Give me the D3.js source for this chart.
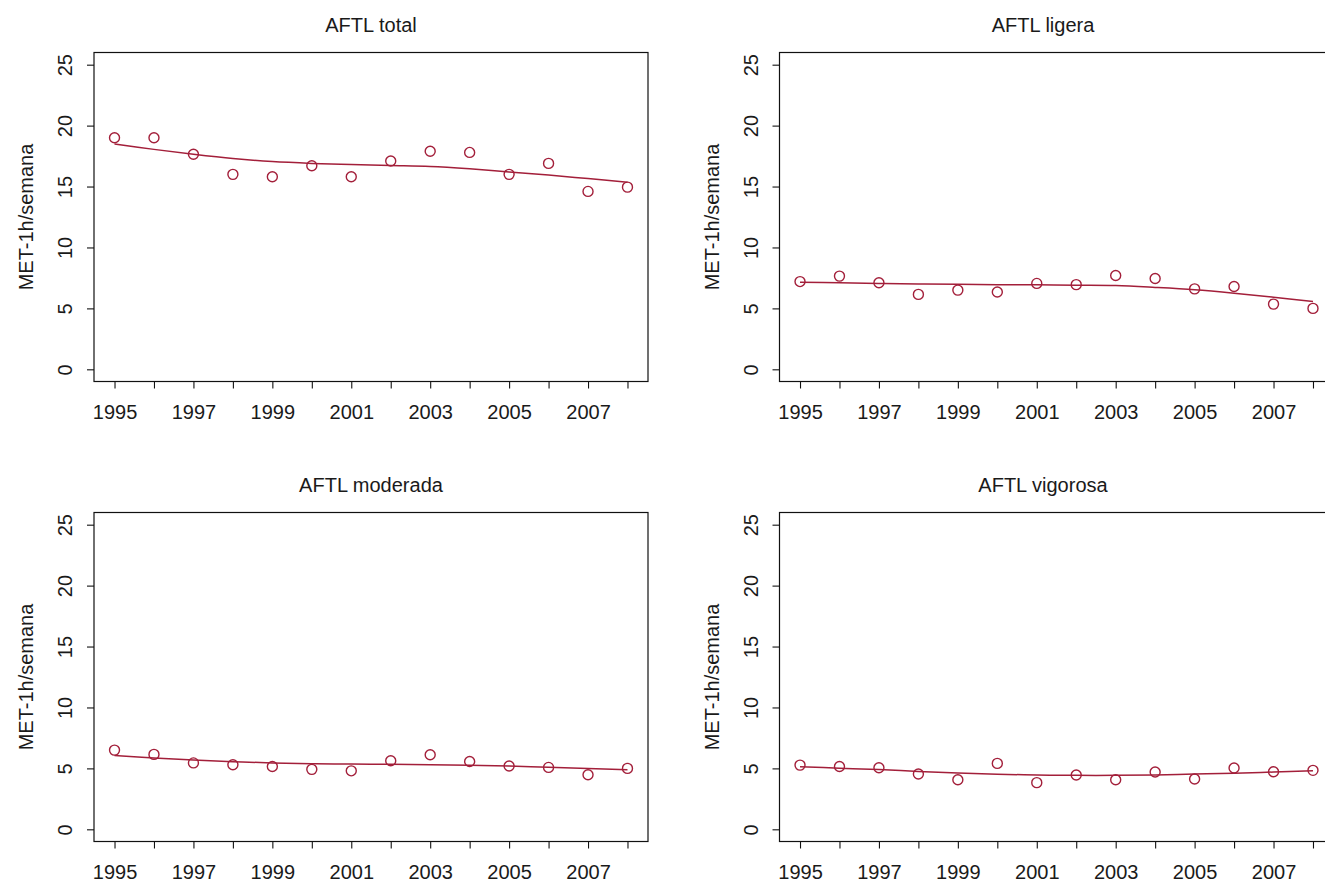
<!DOCTYPE html>
<html>
<head>
<meta charset="utf-8">
<script src="https://cdn.jsdelivr.net/npm/d3@7"></script>
<style>
  body { margin: 0; background: #fff; }
  svg text { font-family: "Liberation Sans", Arial, sans-serif; fill: #1a1a1a; }
</style>
</head>
<body>
<div id="chart"></div>
<script>
"use strict";

// values
var years = [1995, 1996, 1997, 1998, 1999, 2000, 2001, 2002, 2003, 2004, 2005, 2006, 2007, 2008];
var xTickLabels = [1995, 1997, 1999, 2001, 2003, 2005, 2007];
var yTicks = [0, 5, 10, 15, 20, 25];
var titles = ["AFTL total", "AFTL ligera", "AFTL moderada", "AFTL vigorosa"];
var yLabel = "MET-1h/semana";

var totalObs = [19.0, 19.0, 17.65, 16.0, 15.8, 16.7, 15.8, 17.1, 17.9, 17.8, 16.0, 16.9, 14.6, 14.95];
var totalFit = [18.5, 18.05, 17.65, 17.3, 17.05, 16.9, 16.8, 16.72, 16.64, 16.45, 16.2, 15.95, 15.65, 15.35];
var ligeraObs = [7.2, 7.65, 7.1, 6.15, 6.5, 6.35, 7.05, 6.95, 7.7, 7.45, 6.6, 6.8, 5.35, 5.0];
var ligeraFit = [7.15, 7.1, 7.05, 7.0, 6.98, 6.95, 6.93, 6.9, 6.87, 6.72, 6.53, 6.25, 5.92, 5.57];
var moderadaObs = [6.5, 6.15, 5.45, 5.3, 5.15, 4.92, 4.8, 5.63, 6.12, 5.57, 5.19, 5.08, 4.48, 5.0];
var moderadaFit = [6.06, 5.85, 5.68, 5.55, 5.45, 5.38, 5.35, 5.33, 5.3, 5.25, 5.19, 5.1, 5.0, 4.89];
var vigorosaObs = [5.27, 5.16, 5.05, 4.54, 4.07, 5.41, 3.83, 4.46, 4.07, 4.7, 4.13, 5.03, 4.73, 4.84];
var vigorosaFit = [5.14, 5.02, 4.9, 4.75, 4.62, 4.52, 4.46, 4.43, 4.43, 4.46, 4.53, 4.6, 4.7, 4.8];

var red = "#a31f3a";

var svg = d3.select("#chart").append("svg")
  .attr("width", 1325)
  .attr("height", 885);

var panels = [
  { title: titles[0], obs: totalObs, fit: totalFit, left: 94, top: 52.5, titleX: 371 },
  { title: titles[1], obs: ligeraObs, fit: ligeraFit, left: 779.5, top: 52.5, titleX: 1043 },
  { title: titles[2], obs: moderadaObs, fit: moderadaFit, left: 94, top: 512.5, titleX: 371 },
  { title: titles[3], obs: vigorosaObs, fit: vigorosaFit, left: 779.5, top: 512.5, titleX: 1043 }
];

var W = 554, H = 329;

panels.forEach(function(p) {
  // R style 4% padding on both axes
  var x = d3.scaleLinear().domain([1995 - 0.52, 2008 + 0.52]).range([0, W]);
  var y = d3.scaleLinear().domain([-1, 26]).range([H, 0]);

  var g = svg.append("g").attr("transform", "translate(" + p.left + "," + p.top + ")");

  g.append("rect")
    .attr("x", 0).attr("y", 0)
    .attr("width", W).attr("height", H)
    .attr("fill", "none")
    .attr("stroke", "#111")
    .attr("stroke-width", 1.2);

  // x axis
  var xAxis = d3.axisBottom(x)
    .tickValues(years)
    .tickSize(7)
    .tickFormat(function(d) {
      return xTickLabels.indexOf(d) > -1 ? d : "";
    });
  var gx = g.append("g").attr("transform", "translate(0," + H + ")").call(xAxis);
  gx.select(".domain").remove();
  gx.selectAll("line").attr("stroke", "#111").attr("stroke-width", 1.1);
  gx.selectAll("text")
    .attr("y", 37)
    .attr("dy", 0)
    .style("font-size", "20px");

  // y axis
  var yAxis = d3.axisLeft(y).tickValues(yTicks).tickSize(7);
  var gy = g.append("g").call(yAxis);
  gy.select(".domain").remove();
  gy.selectAll("line").attr("stroke", "#111").attr("stroke-width", 1.1);
  gy.selectAll("text")
    .attr("x", 0)
    .attr("dy", 0)
    .attr("transform", "translate(-22,0) rotate(-90)")
    .style("text-anchor", "middle")
    .style("font-size", "20px");

  g.append("text")
    .attr("transform", "translate(-61," + H / 2 + ") rotate(-90)")
    .style("text-anchor", "middle")
    .style("font-size", "20px")
    .text(yLabel);

  svg.append("text")
    .attr("x", p.titleX)
    .attr("y", p.top - 20.5)
    .style("text-anchor", "middle")
    .style("font-size", "20px")
    .text(p.title);

  var line = d3.line()
    .x(function(d, i) { return x(years[i]); })
    .y(function(d) { return y(d); })
    .curve(d3.curveCatmullRom);

  g.append("path")
    .datum(p.fit)
    .attr("d", line)
    .attr("fill", "none")
    .attr("stroke", red)
    .attr("stroke-width", 1.5);

  g.selectAll("circle.pt")
    .data(p.obs)
    .enter()
    .append("circle")
    .attr("class", "pt")
    .attr("cx", function(d, i) { return x(years[i]); })
    .attr("cy", function(d) { return y(d); })
    .attr("r", 5)
    .attr("fill", "none")
    .attr("stroke", red)
    .attr("stroke-width", 1.4);
});
</script>
</body>
</html>
